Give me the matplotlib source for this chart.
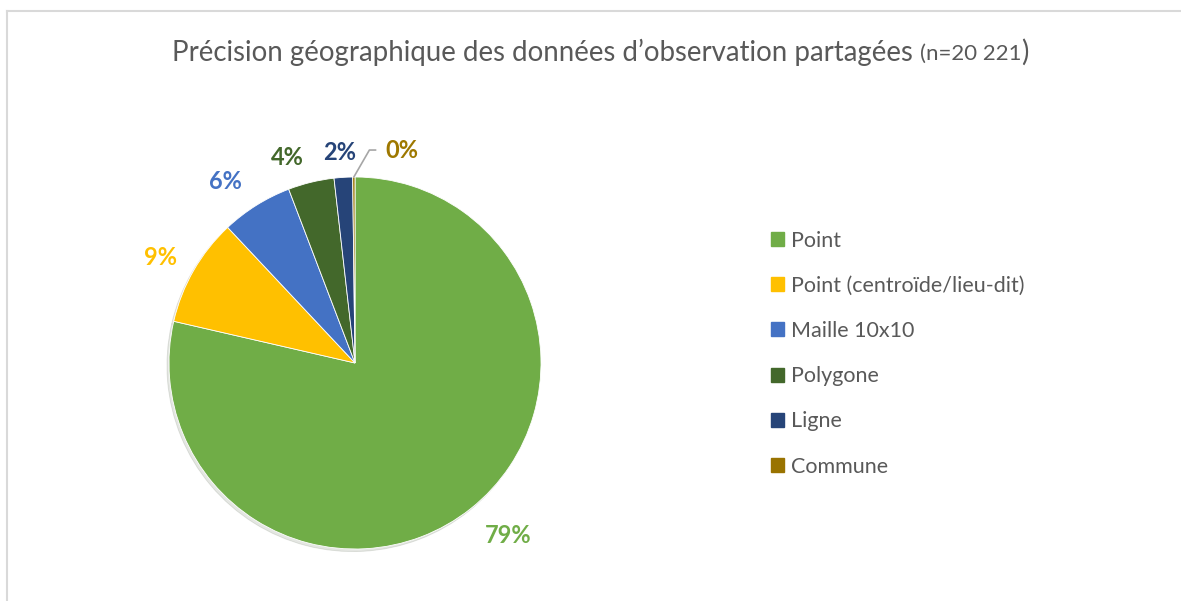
import numpy as np
import matplotlib
matplotlib.use("Agg")
import matplotlib.pyplot as plt
import matplotlib.patches as mpatches

# data
categories = ["Point", "Point (centroïde/lieu-dit)", "Maille 10x10", "Polygone", "Ligne", "Commune"]
shares = [78.6, 9.4, 6.2, 4.0, 1.6, 0.2]
colors = ["#70AD47", "#FFC000", "#4472C4", "#43682B", "#264478", "#997300"]
title_main = "Précision géographique des données d’observation partagées "
title_n = "(n=20 221"

plt.rcParams['font.family'] = ['Lato', 'DejaVu Sans']
grey = "#595959"

fig = plt.figure(figsize=(11.81, 6.01), dpi=100)
W, H = 1181, 601

# frame (only top and left edges visible in the reference)
fig.add_artist(plt.Line2D([7 / W, 1], [1 - 10.5 / H, 1 - 10.5 / H], color="#D9D9D9", lw=1.5))
fig.add_artist(plt.Line2D([7 / W, 7 / W], [0, 1 - 10.5 / H], color="#D9D9D9", lw=1.5))

cx, cy, r = 355, 363, 186
ax = fig.add_axes([(cx - r) / W, (H - cy - r) / H, 2 * r / W, 2 * r / H])

wedges, texts, autotexts = ax.pie(
    shares, colors=colors, startangle=90, counterclock=False, radius=1,
    autopct="%.0f%%", pctdistance=1.2, labeldistance=None,
    wedgeprops=dict(linewidth=0.6, edgecolor="white"),
    textprops=dict(fontsize=17, fontweight="bold"))
ax.set_xlim(-1, 1)
ax.set_ylim(-1, 1)
ax.set_aspect("equal")
ax.axis("off")

for w in wedges:
    sh = mpatches.Shadow(w, -0.008, -0.01, alpha=0.12)
    sh.set_zorder(0)
    ax.add_patch(sh)

# Excel "best fit" label placement: distance from centre and small angular nudge
label_dist = [1.24, 1.19, 1.2, 1.165, 1.137]
label_nudge = [3.0, 1.5, 3.5, 4.5, 0.5]
for w, t, c, d, n in zip(wedges, autotexts, colors, label_dist, label_nudge):
    a = np.deg2rad((w.theta1 + w.theta2) / 2 + n)
    t.set_position((d * np.cos(a), d * np.sin(a)))
    t.set_color(c)
    t.set_clip_on(False)

# tiny "Commune" slice: label pulled out with a leader line
w = wedges[-1]
ang = np.deg2rad((w.theta1 + w.theta2) / 2)
x0, y0 = np.cos(ang), np.sin(ang)
t = autotexts[-1]
t.set_visible(False)
ax.annotate(t.get_text(), xy=(x0, y0), xytext=(x0 + 0.17, y0 + 0.145),
            color="#9E7800", fontsize=17, fontweight="bold", va="center", ha="left",
            annotation_clip=False,
            arrowprops=dict(arrowstyle="-", color="#A6A6A6", lw=1.2,
                            connectionstyle="angle,angleA=0,angleB=60,rad=0",
                            shrinkA=5, shrinkB=0))

# title: main part, small "(n=...", large ")"
fig.canvas.draw()
rend = fig.canvas.get_renderer()
t1 = fig.text(172 / W, 1 - 52 / H, title_main, fontsize=19.9, color=grey, va="center", ha="left")
bb = t1.get_window_extent(rend)
t2 = fig.text(bb.x1 / W, 1 - 54 / H, title_n, fontsize=16, color=grey, va="center", ha="left")
bb2 = t2.get_window_extent(rend)
fig.text(bb2.x1 / W, 1 - 52 / H, ")", fontsize=19.9, color=grey, va="center", ha="left")

handles = [mpatches.Patch(color=c, label=l) for c, l in zip(colors, categories)]
fig.legend(handles=handles, loc="upper left", bbox_to_anchor=(762 / W, 1 - 222 / H),
           frameon=False, fontsize=15.5, labelcolor=grey, handlelength=0.62, handleheight=0.62,
           handletextpad=0.35, labelspacing=1.17, borderaxespad=0)

fig.savefig("out.png", dpi=100)
